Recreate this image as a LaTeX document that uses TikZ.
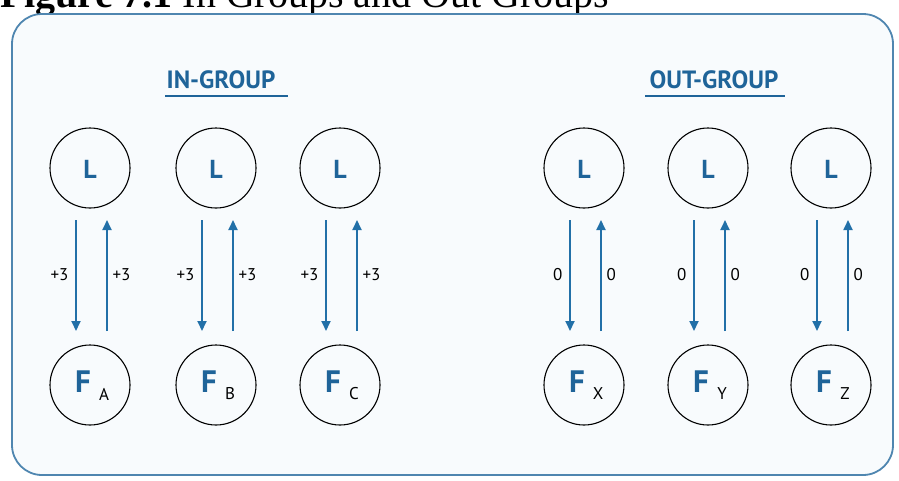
\documentclass[tikz,border=0pt]{standalone}
\usepackage{fontspec}
\setmainfont{Liberation Serif}
\setsansfont{PT Sans}
\usepackage{xcolor}
\usetikzlibrary{arrows.meta}
\definecolor{frame}{HTML}{4F86B0}
\definecolor{panel}{HTML}{F8FBFD}
\definecolor{ink}{HTML}{1F6499}
\definecolor{arr}{HTML}{2270A8}
\tikzset{
  member/.style={circle, draw=black, line width=1.1pt, minimum size=80pt, inner sep=0pt},
  head/.style={text=ink, font=\sffamily\bfseries\fontsize{25}{25}\selectfont},
  bar/.style={draw=ink, line width=2.6pt},
  link/.style={draw=arr, line width=1.8pt, -{Triangle[length=10pt,width=9pt]}},
  val/.style={text=black, font=\sffamily\fontsize{17}{17}\selectfont},
  lead/.style={text=ink, font=\sffamily\bfseries\fontsize{26}{26}\selectfont},
  leadf/.style={text=ink, font=\sffamily\bfseries\fontsize{31}{31}\selectfont},
  sub/.style={text=black, font=\sffamily\fontsize{17}{17}\selectfont},
}

\begin{document}
\begin{tikzpicture}[x=1pt,y=-1pt]
  \useasboundingbox (0,0) rectangle (899,480);
  \clip (0,0) rectangle (899,480);

  % title, cut off at the top
  \node[anchor=base west, inner sep=0pt, font=\fontsize{40}{40}\selectfont] (title) at (0,7)
    {\textbf{Figure 7.1} In Groups and Out Groups};

  % panel
  \draw[frame, line width=1.8pt, fill=panel, rounded corners=30pt] (12,14) rectangle (893,475);

  % headings
  \node[head] (ingroup) at (221,80) {IN-GROUP};
  \draw[bar] (165,96) -- (288,96);
  \node[head] (outgroup) at (714,80) {OUT-GROUP};
  \draw[bar] (645,96) -- (785,96);

  % leaders and followers
  \foreach \x/\s/\v in {90/A/+3, 216/B/+3, 340/C/+3, 584/X/0, 708/Y/0, 831/Z/0} {
    \node[member] (L\s) at (\x,168) {};
    \node[lead] at (\x,169) {L};
    \node[member] (F\s) at (\x,385) {};
    \node[leadf] at (\x-7,382) {F};
    \node[sub] at (\x+14,394) {\s};
    \coordinate (d1\s) at (\x-14,220);
    \coordinate (d2\s) at (\x-14,331);
    \coordinate (u1\s) at (\x+17,331);
    \coordinate (u2\s) at (\x+17,220);
    \draw[link] (d1\s) -- (d2\s);
    \draw[link] (u1\s) -- (u2\s);
    \node[val, anchor=east] at (\x-18,275) {\v};
    \node[val, anchor=west] at (\x+19,275) {\v};
  }
\end{tikzpicture}
\end{document}
